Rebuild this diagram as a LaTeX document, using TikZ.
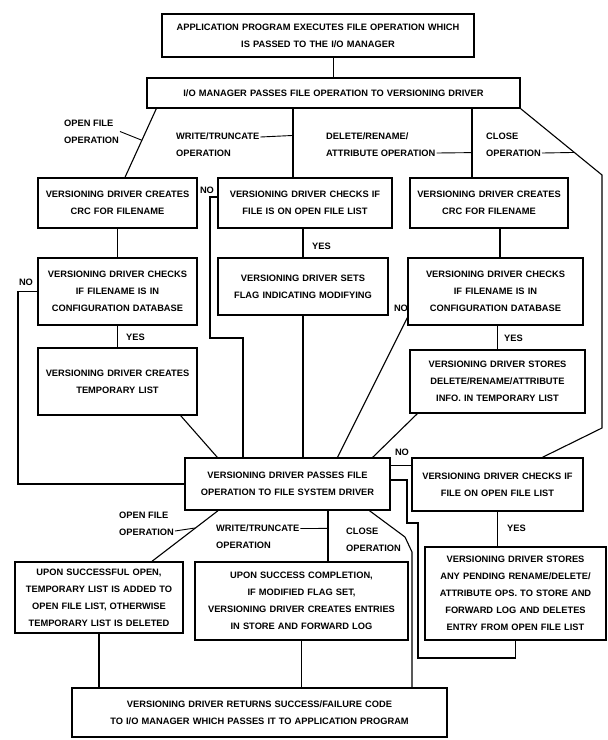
\documentclass[tikz,border=0pt]{standalone}
\usepackage{fontspec}
\setmainfont{Liberation Sans}

\begin{document}
\begin{tikzpicture}[x=1pt, y=-1pt,
    box/.style 2 args={draw, line width=1.4pt, align=center, inner xsep=3pt, inner ysep=2pt,
      text width=#1pt, minimum height=#2pt, font=\fontsize{9.3}{17}\selectfont\bfseries},
    lbl/.style={align=left, inner sep=1pt, font=\fontsize{9.3}{17}\selectfont\bfseries},
    con/.style={line width=1.1pt},
    lead/.style={line width=.9pt}]
    \fill[white] (0,0) rectangle (608,740);
    \useasboundingbox (0,0) rectangle (608,740);

    \node[box={306}{43}] (B1) at (318,35.5) {APPLICATION PROGRAM EXECUTES FILE OPERATION WHICH\\IS PASSED TO THE I/O MANAGER};
    \node[box={367}{30}] (B2) at (333.5,93) {I/O MANAGER PASSES FILE OPERATION TO VERSIONING DRIVER};
    \node[box={153}{50}] (L1) at (117.5,203) {VERSIONING DRIVER CREATES\\CRC FOR FILENAME};
    \node[box={168}{50}] (M1) at (305,203) {VERSIONING DRIVER CHECKS IF\\FILE IS ON OPEN FILE LIST};
    \node[box={152}{50}] (R1) at (489,203) {VERSIONING DRIVER CREATES\\CRC FOR FILENAME};
    \node[box={153}{67}] (L2) at (117.5,291.5) {VERSIONING DRIVER CHECKS\\IF FILENAME IS IN\\CONFIGURATION DATABASE};
    \node[box={164}{57}] (M2) at (303,286.5) {VERSIONING DRIVER SETS\\FLAG INDICATING MODIFYING};
    \node[box={169}{67}] (R2) at (495.5,291.5) {VERSIONING DRIVER CHECKS\\IF FILENAME IS IN\\CONFIGURATION DATABASE};
    \node[box={153}{67}] (L3) at (117.5,381.5) {VERSIONING DRIVER CREATES\\TEMPORARY LIST};
    \node[box={169}{63}] (R3) at (497.5,381.5) {VERSIONING DRIVER STORES\\DELETE/RENAME/ATTRIBUTE\\INFO. IN TEMPORARY LIST};
    \node[box={199}{52}] (C) at (287.5,484) {VERSIONING DRIVER PASSES FILE\\OPERATION TO FILE SYSTEM DRIVER};
    \node[box={165}{53}] (R4) at (497.5,484.5) {VERSIONING DRIVER CHECKS IF\\FILE ON OPEN FILE LIST};
    \node[box={162}{71}] (BL) at (99,597.5) {UPON SUCCESSFUL OPEN,\\TEMPORARY LIST IS ADDED TO\\OPEN FILE LIST, OTHERWISE\\TEMPORARY LIST IS DELETED};
    \node[box={207}{78}] (BM) at (301.5,601) {UPON SUCCESS COMPLETION,\\IF MODIFIED FLAG SET,\\VERSIONING DRIVER CREATES ENTRIES\\IN STORE AND FORWARD LOG};
    \node[box={175}{93}] (R5) at (515.5,593.5) {VERSIONING DRIVER STORES\\ANY PENDING RENAME/DELETE/\\ATTRIBUTE OPS. TO STORE AND\\FORWARD LOG AND DELETES\\ENTRY FROM OPEN FILE LIST};
    \node[box={369}{49}] (F) at (259.5,712.5) {VERSIONING DRIVER RETURNS SUCCESS/FAILURE CODE\\TO I/O MANAGER WHICH PASSES IT TO APPLICATION PROGRAM};

    \node[lbl, anchor=west] (opA) at (63,131.5) {OPEN FILE\\OPERATION};
    \node[lbl, anchor=west] (wtA) at (175,145) {WRITE/TRUNCATE\\OPERATION};
    \node[lbl, anchor=west] (drA) at (325,145) {DELETE/RENAME/\\ATTRIBUTE OPERATION};
    \node[lbl, anchor=west] (clA) at (485,145) {CLOSE\\OPERATION};
    \node[lbl, anchor=west] (opB) at (118,523.5) {OPEN FILE\\OPERATION};
    \node[lbl, anchor=west] (wtB) at (215,536.5) {WRITE/TRUNCATE\\OPERATION};
    \node[lbl, anchor=west] (clB) at (345,540) {CLOSE\\OPERATION};
    \node[lbl, anchor=west] (y1) at (125,337) {YES};
    \node[lbl, anchor=west] (y2) at (311,246) {YES};
    \node[lbl, anchor=west] (y3) at (503,338) {YES};
    \node[lbl, anchor=west] (y4) at (506,528) {YES};
    \node[lbl] (n1) at (26,282) {NO};
    \node[lbl] (n2) at (207,190) {NO};
    \node[lbl] (n3) at (401,308) {NO};
    \node[lbl] (n4) at (402,452) {NO};

    \draw[con] (B2.north |- B1.south) -- (B2.north);
    \draw[con] ([xshift=10pt]B2.south west) -- coordinate[pos=.46] (op1) ([xshift=7.5pt]L1.north);
    \draw[con] ([xshift=-12pt]M1.north |- B2.south) -- coordinate[pos=.39] (wt1) ([xshift=-12pt]M1.north);
    \draw[con] ([xshift=-17pt]R1.north |- B2.south) -- coordinate[pos=.64] (dr1) ([xshift=-17pt]R1.north);
    \draw[con] (B2.south east) -- coordinate[pos=.66] (cl1) (602,175) -- (602,428) -- ([xshift=45pt]R4.north);
    \draw[lead] (opA.east) -- (op1);
    \draw[lead] ([yshift=8pt]wtA.east) -- (wt1);
    \draw[lead] ([yshift=-8pt]drA.east) -- (dr1);
    \draw[lead] ([yshift=-8pt]clA.east) -- (cl1);

    \draw[con] (L1.south) -- (L2.north);
    \draw[con] (L2.south) -- (L3.north);
    \draw[con] (M2.north |- M1.south) -- (M2.north);
    \draw[con] ([xshift=11pt]R1.south) -- ([xshift=11pt]R1.south |- R2.north);
    \draw[con] (R3.north |- R2.south) -- (R3.north);
    \draw[con] ([yshift=6pt]M1.west) -- (210,197) -- (210,338) -- (243,338) -- ([xshift=-44.5pt]C.north);
    \draw[con] (M2.south) -- (M2.south |- C.north);
    \draw[con] (L2.west) -- (18,291.5) |- (C.west);
    \draw[con] ([xshift=-17pt]L3.south east) -- ([xshift=33pt]C.north west);
    \draw[con] ([yshift=8pt]R2.south west) -- ([xshift=50pt]C.north);
    \draw[con] ([xshift=8pt]R3.south west) -- ([xshift=-18pt]C.north east);
    \draw[con] ([yshift=19pt]R4.west) -- ([yshift=19pt]R4.west -| C.east);
    \draw[con] (R4.south) -- (R4.south |- R5.north);
    \draw[con] (R5.south) |- (418,658) -- (418,523) -- (407,523) |- ([yshift=4pt]C.east);

    \coordinate (k1) at (412,552);
    \draw[con] ([xshift=82pt]C.south) -- (405,537) -- (k1) -- (k1 |- F.north);
    \draw[con] ([xshift=-69.5pt]C.south) -- coordinate[pos=.34] (op2) ([xshift=53pt]BL.north);
    \draw[con] ([xshift=40.5pt]C.south) -- coordinate[pos=.35] (wt2) ([xshift=40.5pt]C.south |- BM.north);
    \draw[lead] ([yshift=-7.5pt]opB.east) -- (op2);
    \draw[lead] ([yshift=8pt]wtB.east) -- (wt2);
    \draw[con] (BL.south) -- (BL.south |- F.north);
    \draw[con] (BM.south) -- (BM.south |- F.north);
\end{tikzpicture}
\end{document}
